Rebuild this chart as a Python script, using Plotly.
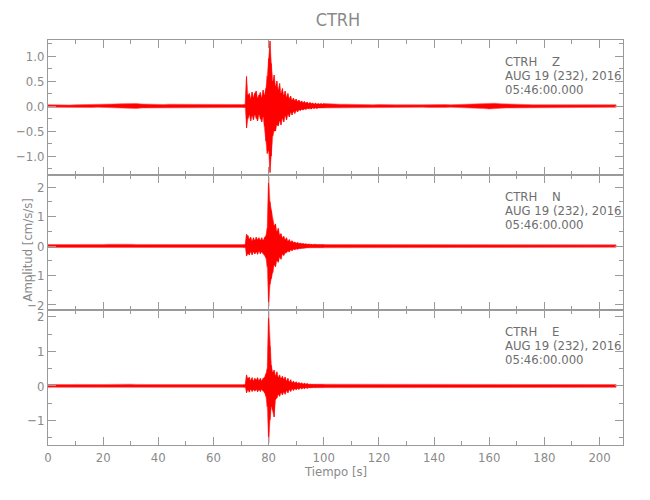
import plotly.graph_objects as go
from plotly.subplots import make_subplots

# ---- time sampling (s) ----
T_PRE = list(range(0, 71, 2))                 # 0..70
T_EVT = [71 + 0.5 * i for i in range(59)]      # 71..100
T_POST = list(range(102, 207, 2))              # 102..206

# ---- quiet-noise half-amplitudes (cm/s/s) ----
Z_PRE = [0.025, 0.02, 0.025, 0.025, 0.02, 0.025, 0.025, 0.03, 0.03, 0.025,
         0.03, 0.035, 0.04, 0.045, 0.05, 0.045, 0.05, 0.04, 0.035, 0.03,
         0.025, 0.03, 0.035, 0.035, 0.04, 0.035, 0.03, 0.03, 0.025, 0.025,
         0.025, 0.025, 0.03, 0.025, 0.025, 0.025]
Z_POST = [0.04, 0.035, 0.035, 0.035, 0.03, 0.035, 0.03, 0.03, 0.025, 0.03,
          0.025, 0.03, 0.025, 0.025, 0.03, 0.025, 0.025, 0.025, 0.03, 0.025,
          0.025, 0.03, 0.025, 0.03, 0.03, 0.035, 0.04, 0.045, 0.05, 0.06,
          0.055, 0.045, 0.04, 0.04, 0.035, 0.03, 0.03, 0.025, 0.025, 0.025,
          0.025, 0.025, 0.025, 0.025, 0.025, 0.025, 0.025, 0.025, 0.025, 0.025,
          0.025, 0.025, 0.025]
N_PRE = [0.05, 0.045, 0.05, 0.05, 0.045, 0.05, 0.055, 0.05, 0.05, 0.055,
         0.055, 0.06, 0.065, 0.07, 0.07, 0.06, 0.055, 0.05, 0.05, 0.055,
         0.05, 0.055, 0.05, 0.05, 0.055, 0.05, 0.05, 0.055, 0.05, 0.05,
         0.05, 0.05, 0.05, 0.05, 0.05, 0.05]
N_POST = [0.06, 0.06, 0.055, 0.055, 0.05, 0.055, 0.05, 0.05, 0.045, 0.05,
          0.045, 0.05, 0.045, 0.045, 0.05, 0.045, 0.045, 0.04, 0.045, 0.04,
          0.045, 0.04, 0.045, 0.045, 0.04, 0.045, 0.045, 0.05, 0.045, 0.045,
          0.04, 0.045, 0.04, 0.04, 0.045, 0.04, 0.04, 0.04, 0.045, 0.04,
          0.04, 0.04, 0.04, 0.04, 0.04, 0.04, 0.04, 0.04, 0.04, 0.04,
          0.04, 0.04, 0.04]
E_PRE = [0.04, 0.035, 0.04, 0.04, 0.04, 0.045, 0.04, 0.04, 0.04, 0.04,
         0.04, 0.045, 0.05, 0.06, 0.055, 0.05, 0.045, 0.04, 0.04, 0.04,
         0.045, 0.04, 0.04, 0.04, 0.045, 0.04, 0.04, 0.04, 0.04, 0.04,
         0.04, 0.04, 0.04, 0.04, 0.04, 0.04]
E_POST = [0.055, 0.05, 0.05, 0.045, 0.045, 0.045, 0.04, 0.045, 0.04, 0.04,
          0.04, 0.045, 0.04, 0.04, 0.04, 0.04, 0.04, 0.035, 0.04, 0.04,
          0.04, 0.04, 0.04, 0.04, 0.04, 0.04, 0.04, 0.04, 0.04, 0.035,
          0.04, 0.04, 0.04, 0.035, 0.04, 0.04, 0.035, 0.04, 0.04, 0.04,
          0.035, 0.04, 0.04, 0.04, 0.04, 0.035, 0.04, 0.04, 0.04, 0.035,
          0.04, 0.04, 0.04]

# ---- event window envelopes (max / min per 0.5 s) ----
Z_UP = [0.03, 0.03, 0.59, 0.22, 0.25, 0.15, 0.28, 0.18, 0.26, 0.30,
        0.16, 0.22, 0.27, 0.17, 0.32, 0.22, 0.35, 0.60, 0.95, 1.30,
        0.85, 0.50, 0.62, 0.40, 0.50, 0.33, 0.45, 0.26, 0.35, 0.22,
        0.30, 0.18, 0.25, 0.15, 0.20, 0.12, 0.16, 0.11, 0.14, 0.09,
        0.12, 0.08, 0.10, 0.07, 0.09, 0.06, 0.08, 0.05, 0.07, 0.05,
        0.06, 0.04, 0.06, 0.04, 0.05, 0.04, 0.05, 0.04, 0.05]
Z_LO = [-0.03, -0.03, -0.44, -0.25, -0.18, -0.30, -0.20, -0.28, -0.18, -0.25,
        -0.30, -0.18, -0.26, -0.32, -0.22, -0.40, -0.70, -0.95, -0.90, -1.33,
        -1.00, -0.60, -0.50, -0.50, -0.38, -0.40, -0.30, -0.38, -0.25, -0.32,
        -0.20, -0.28, -0.17, -0.22, -0.13, -0.18, -0.11, -0.15, -0.09, -0.12,
        -0.08, -0.09, -0.07, -0.08, -0.06, -0.07, -0.05, -0.06, -0.05, -0.06,
        -0.04, -0.05, -0.04, -0.05, -0.04, -0.04, -0.04, -0.04, -0.04]
N_UP = [0.05, 0.05, 0.40, 0.35, 0.24, 0.30, 0.18, 0.28, 0.20, 0.30,
        0.22, 0.28, 0.20, 0.28, 0.20, 0.30, 0.35, 0.60, 2.35, 1.50,
        1.20, 0.85, 0.70, 0.75, 0.50, 0.60, 0.38, 0.42, 0.28, 0.33,
        0.22, 0.28, 0.17, 0.22, 0.14, 0.18, 0.12, 0.14, 0.10, 0.12,
        0.09, 0.10, 0.08, 0.09, 0.07, 0.08, 0.06, 0.07, 0.06, 0.06,
        0.05, 0.06, 0.05, 0.05, 0.05, 0.05, 0.05, 0.05, 0.05]
N_LO = [-0.05, -0.05, -0.34, -0.26, -0.30, -0.20, -0.30, -0.20, -0.27, -0.20,
        -0.28, -0.18, -0.26, -0.20, -0.26, -0.30, -0.40, -0.70, -2.05, -1.30,
        -1.10, -0.90, -0.65, -0.70, -0.50, -0.55, -0.38, -0.45, -0.28, -0.32,
        -0.24, -0.22, -0.18, -0.20, -0.13, -0.16, -0.11, -0.13, -0.10, -0.11,
        -0.09, -0.09, -0.08, -0.08, -0.07, -0.07, -0.06, -0.06, -0.05, -0.05,
        -0.05, -0.05, -0.05, -0.05, -0.05, -0.05, -0.05, -0.05, -0.05]
E_UP = [0.04, 0.04, 0.32, 0.22, 0.25, 0.16, 0.24, 0.15, 0.22, 0.18,
        0.24, 0.16, 0.22, 0.15, 0.22, 0.25, 0.35, 0.50, 2.15, 1.14,
        0.60, 0.40, 0.46, 0.30, 0.41, 0.25, 0.32, 0.22, 0.28, 0.20,
        0.26, 0.15, 0.22, 0.12, 0.18, 0.10, 0.14, 0.09, 0.12, 0.08,
        0.10, 0.07, 0.09, 0.06, 0.08, 0.06, 0.07, 0.05, 0.06, 0.05,
        0.05, 0.05, 0.05, 0.04, 0.05, 0.04, 0.05, 0.04, 0.04]
E_LO = [-0.04, -0.04, -0.20, -0.12, -0.18, -0.10, -0.16, -0.11, -0.15, -0.10,
        -0.17, -0.11, -0.16, -0.10, -0.15, -0.20, -0.30, -0.60, -1.65, -0.98,
        -0.60, -0.70, -0.90, -0.40, -0.35, -0.25, -0.30, -0.20, -0.26, -0.18,
        -0.24, -0.14, -0.20, -0.11, -0.16, -0.09, -0.13, -0.08, -0.11, -0.07,
        -0.10, -0.06, -0.09, -0.06, -0.08, -0.05, -0.07, -0.05, -0.06, -0.05,
        -0.05, -0.04, -0.05, -0.04, -0.04, -0.04, -0.04, -0.04, -0.04]

COMPONENTS = ["Z", "N", "E"]
Y_RANGES = [[-1.38, 1.32], [-2.17, 2.41], [-1.71, 2.20]]
Y_DTICK = [0.5, 1, 1]
Y_MINOR = [0.25, 0.5, 0.5]
Y_FMT = [".1f", "d", "d"]
STATION = "CTRH"
DATE_TEXT = "AUG 19 (232), 2016"
TIME_TEXT = "05:46:00.000"

pre = [Z_PRE, N_PRE, E_PRE]
post = [Z_POST, N_POST, E_POST]
ups = [Z_UP, N_UP, E_UP]
los = [Z_LO, N_LO, E_LO]

FONT = "DejaVu Sans Condensed, Liberation Sans Narrow, sans-serif"
AX = "#9a9a9a"
TXT = "#8a8a8a"

fig = make_subplots(rows=3, cols=1, shared_xaxes=False, vertical_spacing=0)

t_all = T_PRE + T_EVT + T_POST
for i in range(3):
    up = pre[i] + ups[i] + post[i]
    lo = [-v for v in pre[i]] + los[i] + [-v for v in post[i]]
    # filled min/max band
    fig.add_trace(go.Scatter(
        x=t_all + t_all[::-1], y=up + lo[::-1],
        mode="lines", fill="toself", fillcolor="#ff0000",
        line=dict(color="rgba(255,80,80,0.75)", width=0.8),
        hoverinfo="skip", showlegend=False), row=i + 1, col=1)
    # min/max strokes in the event window
    zx, zy = [], []
    for t, a, b in zip(T_EVT, ups[i], los[i]):
        zx += [t, t]
        zy += [a, b]
    fig.add_trace(go.Scatter(
        x=zx, y=zy, mode="lines",
        line=dict(color="rgba(255,0,0,0.9)", width=0.7),
        hoverinfo="skip", showlegend=False), row=i + 1, col=1)

    fig.update_xaxes(range=[0, 208.5], dtick=20, tick0=0, ticks="inside", ticklen=8,
                     tickcolor=AX, linecolor=AX, linewidth=1, showline=True, mirror="ticks",
                     showgrid=False, zeroline=False, automargin=False,
                     minor=dict(dtick=10, ticks="inside", ticklen=4, tickcolor=AX),
                     showticklabels=(i == 2),
                     tickfont=dict(family=FONT, size=13, color=TXT),
                     row=i + 1, col=1)
    fig.update_yaxes(range=Y_RANGES[i], dtick=Y_DTICK[i], tick0=0, tickformat=Y_FMT[i],
                     ticks="inside", ticklen=8, tickcolor=AX, linecolor=AX, linewidth=1,
                     showline=True, mirror="ticks", showgrid=False, zeroline=False,
                     automargin=False,
                     minor=dict(dtick=Y_MINOR[i], ticks="inside", ticklen=4, tickcolor=AX),
                     tickfont=dict(family=FONT, size=13, color=TXT),
                     row=i + 1, col=1)

    yref = "y domain" if i == 0 else f"y{i + 1} domain"
    xref = "x" if i == 0 else f"x{i + 1}"
    lines = [f"{STATION}    {COMPONENTS[i]}", DATE_TEXT, TIME_TEXT]
    for k, s in enumerate(lines):
        fig.add_annotation(text=s, xref=xref, yref=yref, x=165, y=0.84 - 0.105 * k,
                           xanchor="left", yanchor="middle", showarrow=False,
                           font=dict(family=FONT, size=13, color="#6e6e6e"))

fig.add_annotation(text="Amplitud [cm/s/s]", xref="paper", yref="paper", x=0, y=0.48,
                   xshift=-20, textangle=-90, showarrow=False, xanchor="center",
                   yanchor="middle", font=dict(family=FONT, size=13, color=TXT))
fig.add_annotation(text="Tiempo [s]", xref="paper", yref="paper", x=0.5, y=0,
                   yshift=-26, showarrow=False, xanchor="center", yanchor="middle",
                   font=dict(family=FONT, size=13, color=TXT))

fig.update_layout(
    width=650, height=500,
    margin=dict(l=48, r=27, t=40, b=55, autoexpand=False),
    paper_bgcolor="white", plot_bgcolor="white",
    title=dict(text=STATION, x=0.52, xanchor="center", y=0.96, yanchor="middle",
               font=dict(family=FONT, size=18, color=TXT)),
)

fig.write_html("out.html", config={"displayModeBar": False},
               post_script="document.body.style.margin='0';document.body.style.padding='0';")
